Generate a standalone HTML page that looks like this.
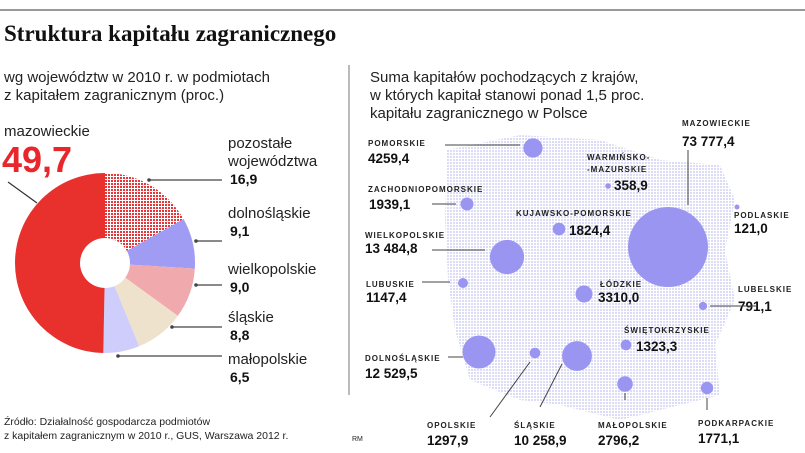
<!DOCTYPE html>
<html><head><meta charset="utf-8"><style>
body{margin:0;background:#fff;}
svg{display:block;font-family:"Liberation Sans","DejaVu Sans",sans-serif;}
.t{font-size:15px;fill:#222;}
.lab{font-size:15px;fill:#222;}
.val{font-size:14px;font-weight:bold;fill:#111;}
.ml{font-size:8px;font-weight:bold;letter-spacing:1px;fill:#222;}
.mv{font-size:13.5px;font-weight:bold;fill:#111;}
</style></head><body>
<svg id="c" width="805" height="453" viewBox="0 0 805 453">
<defs>
<pattern id="chk" width="3" height="3" patternUnits="userSpaceOnUse"><rect width="3" height="3" fill="#fff"/><rect width="2" height="2" fill="#e8353a"/></pattern>
<pattern id="dots" width="3" height="3" patternUnits="userSpaceOnUse"><rect width="2" height="2" fill="#dcdcf6"/></pattern>
</defs>
<rect x="0" y="9" width="805" height="2" fill="#999"/>
<text x="4" y="41" font-family="Liberation Serif,serif" font-weight="bold" font-size="23" fill="#111">Struktura kapitału zagranicznego</text>
<line x1="349" y1="65" x2="349" y2="395" stroke="#777" stroke-width="1"/>
<text class="t" x="4" y="82">wg województw w 2010 r. w podmiotach</text>
<text class="t" x="4" y="100">z kapitałem zagranicznym (proc.)</text>
<text class="t" x="370" y="82">Suma kapitałów pochodzących z krajów,</text>
<text class="t" x="370" y="100">w których kapitał stanowi ponad 1,5 proc.</text>
<text class="t" x="370" y="118">kapitału zagranicznego w Polsce</text>
<g id="donut"></g>
<text class="lab" x="4" y="136">mazowieckie</text>
<text x="2" y="172" font-size="36" font-weight="bold" fill="#e8262b">49,7</text>
<line x1="8" y1="182" x2="37" y2="203" stroke="#333" stroke-width="1.2"/>
<g id="legend"></g>
<path d="M447,150 L520,135 L600,140 L660,160 L720,165 L735,200 L725,250 L735,300 L715,345 L720,395 L680,405 L620,420 L560,405 L520,400 L470,380 L455,330 L448,280 L445,220 Z" fill="url(#dots)"/>
<g id="map"></g>
<text x="4" y="425" font-size="10.5" fill="#222">Źródło: Działalność gospodarcza podmiotów</text>
<text x="4" y="439" font-size="10.5" fill="#222">z kapitałem zagranicznym w 2010 r., GUS, Warszawa 2012 r.</text>
<text x="352" y="441" font-size="7" fill="#222">RM</text>
</svg>
<script>
const shareNames=["pozostałe","dolnośląskie","wielkopolskie","śląskie","małopolskie","mazowieckie"];
const shareValues=[16.9,9.1,9.0,8.8,6.5,49.7];
const shareLabels=["16,9","9,1","9,0","8,8","6,5","49,7"];
const regionNames=["POMORSKIE","WARMIŃSKO-MAZURSKIE","ZACHODNIOPOMORSKIE","KUJAWSKO-POMORSKIE","MAZOWIECKIE","PODLASKIE","WIELKOPOLSKIE","LUBUSKIE","ŁÓDZKIE","LUBELSKIE","ŚWIĘTOKRZYSKIE","DOLNOŚLĄSKIE","OPOLSKIE","ŚLĄSKIE","MAŁOPOLSKIE","PODKARPACKIE"];
const regionValues=[4259.4,358.9,1939.1,1824.4,73777.4,121.0,13484.8,1147.4,3310.0,791.1,1323.3,12529.5,1297.9,10258.9,2796.2,1771.1];
const regionLabels=["4259,4","358,9","1939,1","1824,4","73 777,4","121,0","13 484,8","1147,4","3310,0","791,1","1323,3","12 529,5","1297,9","10 258,9","2796,2","1771,1"];
const NS="http://www.w3.org/2000/svg";
function mk(t,a,p){const e=document.createElementNS(NS,t);for(const k in a)e.setAttribute(k,a[k]);p.appendChild(e);return e;}
const cx=105,cy=263,R=90,r0=25;
const fills=["url(#chk)","#a09cf4","#f0aaae","#efe2cc","#cfcdfb","#e8302d"];
const total=shareValues.reduce((a,b)=>a+b,0);
let ang=0;const dg=document.getElementById('donut');
function pt(a,rr){return [cx+rr*Math.sin(a),cy-rr*Math.cos(a)];}
const mids=[];
shareValues.forEach((v,i)=>{
 const a0=ang,a1=ang+v/total*2*Math.PI;ang=a1;mids.push((a0+a1)/2);
 const [x0,y0]=pt(a0,R),[x1,y1]=pt(a1,R),[x2,y2]=pt(a1,r0),[x3,y3]=pt(a0,r0);
 const lg=(a1-a0)>Math.PI?1:0;
 const p=mk('path',{d:`M${x0},${y0}A${R},${R} 0 ${lg} 1 ${x1},${y1}L${x2},${y2}A${r0},${r0} 0 ${lg} 0 ${x3},${y3}Z`,fill:fills[i]},dg);
 
 
});
const lg=document.getElementById('legend');
const legY=[148,218,274,322,364];
const legTxt=[["pozostałe","województwa"],["dolnośląskie"],["wielkopolskie"],["śląskie"],["małopolskie"]];
for(let i=0;i<5;i++){
 const y=legY[i];const rows=legTxt[i];
 rows.forEach((s,j)=>{const t=mk('text',{x:228,y:y+j*18,class:'lab'},lg);t.textContent=s;
  
  });
 const vy=y+rows.length*18;
 const tv=mk('text',{x:230,y:vy,class:'val'},lg);tv.textContent=shareLabels[i];
 
 
 const ly=[180,241,285,327,356][i];
 const lx=i==0?149:[196,196,172,118][i-1];
 const ln=mk('line',{x1:lx,y1:ly,x2:222,y2:ly,stroke:'#444','stroke-width':1.2},lg);
 
 
 const d=mk('circle',{cx:lx,cy:ly,r:1.8,fill:'#444'},lg);
 
 
}
const mg=document.getElementById('map');
const pos=[[533,148],[608,186],[467,204],[559,229],[668,247],[737,207],[507,257],[463,283],[584,294],[703,306],[626,345],[479,352],[535,353],[577,356],[625,384],[707,388]];
const k=40/Math.sqrt(73777.4);
regionValues.forEach((v,i)=>{
 const c=mk('circle',{cx:pos[i][0],cy:pos[i][1],r:Math.max(2.5,k*Math.sqrt(v)),fill:'#9b95f2'},mg);
 
 
});
const lp=[
 [["POMORSKIE"],368,146,368,163],
 [["WARMIŃSKO-","-MAZURSKIE"],587,160,614,190],
 [["ZACHODNIOPOMORSKIE"],368,192,369,209],
 [["KUJAWSKO-POMORSKIE"],516,216,569,235],
 [["MAZOWIECKIE"],682,126,682,146],
 [["PODLASKIE"],734,218,734,233],
 [["WIELKOPOLSKIE"],365,238,365,253],
 [["LUBUSKIE"],366,287,366,302],
 [["ŁÓDZKIE"],600,287,598,302],
 [["LUBELSKIE"],738,292,738,311],
 [["ŚWIĘTOKRZYSKIE"],624,333,636,351],
 [["DOLNOŚLĄSKIE"],365,361,365,378],
 [["OPOLSKIE"],427,428,427,445],
 [["ŚLĄSKIE"],514,428,514,445],
 [["MAŁOPOLSKIE"],598,428,598,445],
 [["PODKARPACKIE"],698,426,698,443]];
lp.forEach((l,i)=>{
 l[0].forEach((s,j)=>{const t=mk('text',{x:l[1],y:l[2]+j*12,class:'ml'},mg);t.textContent=s;
  
  });
 const t=mk('text',{x:l[3],y:l[4],class:'mv'},mg);t.textContent=regionLabels[i];
 
 
});
const arrows=[[445,145,520,145],[432,204,456,204],[432,250,485,250],[422,282,450,282],[688,150,688,205],[757,306,710,306],[448,357,463,357],[490,417,530,362],[540,407,562,364],[625,400,625,393],[707,410,707,398]];
arrows.forEach((a,i)=>{
 const l=mk('line',{x1:a[0],y1:a[1],x2:a[2],y2:a[3],stroke:'#444','stroke-width':1},mg);
 
 
});
</script>
</body></html>
